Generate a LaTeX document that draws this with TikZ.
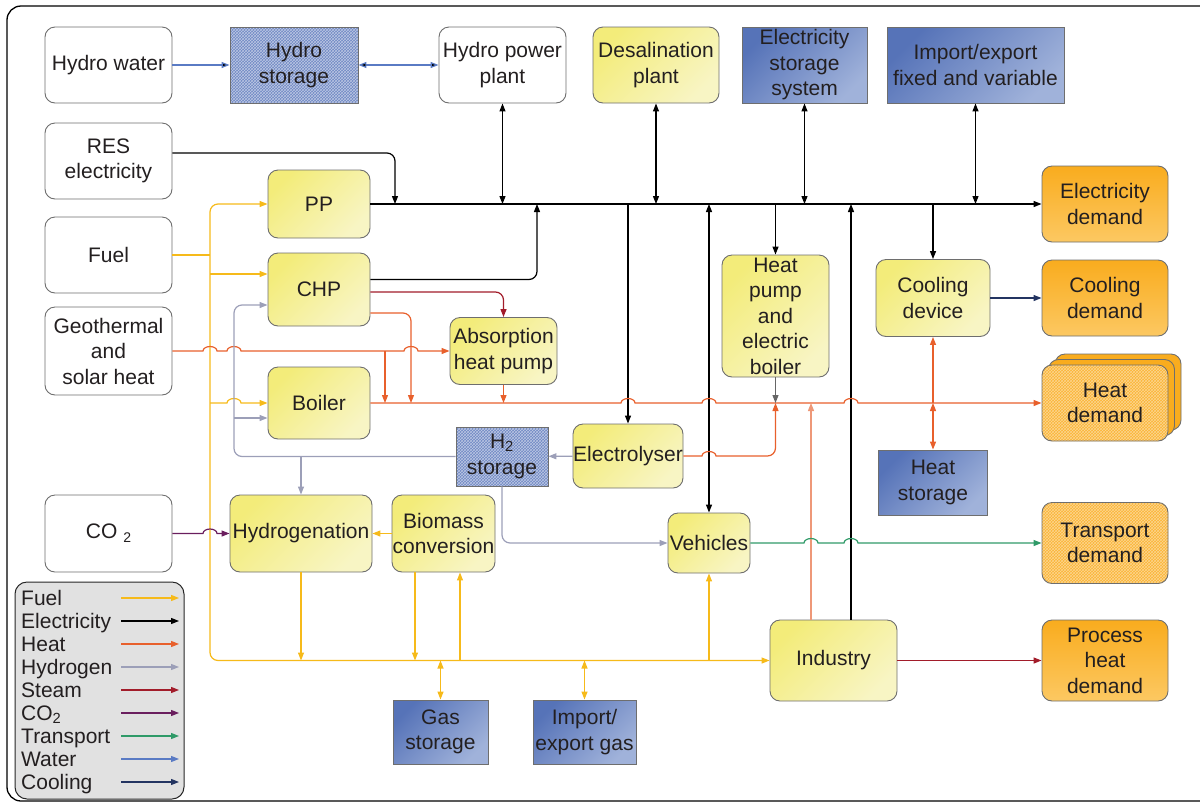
\documentclass[tikz,border=0pt]{standalone}
\usepackage{fontspec}
\setmainfont{Liberation Sans}
\usetikzlibrary{arrows.meta,patterns,shadows}

\definecolor{textc}{HTML}{231F20}
\definecolor{boxline}{HTML}{6E6E6E}
\definecolor{yelA}{HTML}{F3EC7A}
\definecolor{yelB}{HTML}{F8F5C4}
\definecolor{bluA}{HTML}{5673B8}
\definecolor{bluB}{HTML}{A0B2DA}
\definecolor{orgA}{HTML}{F9AC1E}
\definecolor{orgB}{HTML}{FCC862}
\definecolor{keyfill}{HTML}{E1E1E1}
\definecolor{fuelcol}{HTML}{F6BA1A}
\definecolor{heatcol}{HTML}{E8602C}
\definecolor{lightheat}{HTML}{EE9878}
\definecolor{hydcol}{HTML}{9C9FB8}
\definecolor{steamcol}{HTML}{A21C2A}
\definecolor{cocol}{HTML}{6A1E5E}
\definecolor{transcol}{HTML}{2F9A68}
\definecolor{watercol}{HTML}{5A7BC4}
\definecolor{coolcol}{HTML}{233461}

\tikzset{
  box/.style={rectangle, rounded corners=10pt, draw=boxline, line width=0.9pt,
    inner sep=0pt, align=center, text=textc, font=\fontsize{21}{25.5}\selectfont},
  wh/.style 2 args={minimum width=#1pt, minimum height=#2pt},
  plain/.style={box, fill=white},
  unit/.style={box, left color=yelA, right color=yelB, shading angle=45},
  store/.style={box, rounded corners=0pt, left color=bluA, right color=bluB, shading angle=45},
  hatchstore/.style={box, rounded corners=0pt, preaction={fill=bluA!85!white},
    pattern=crosshatch, pattern color=white!60!bluA},
  demand/.style={box, top color=orgA, bottom color=orgB},
  hatchdemand/.style={box, preaction={fill=orgA!90!white}, pattern=crosshatch,
    pattern color=white!50!orgA},
  keybox/.style={rectangle, rounded corners=12pt, draw=black!85, line width=1pt,
    fill=keyfill, minimum width=169pt, minimum height=217pt},
  keytext/.style={anchor=base west, inner sep=0pt, text=textc,
    font=\fontsize{21}{25.5}\selectfont},
  flow/.style={line width=1.2pt, >={Triangle[length=8pt,width=6pt]}},
  fuelflow/.style={flow, draw=fuelcol},
  elecflow/.style={flow, draw=black},
  heatflow/.style={flow, draw=heatcol},
  lheatflow/.style={flow, draw=lightheat},
  hpflow/.style={flow, draw=black!60},
  hydflow/.style={flow, draw=hydcol},
  steamflow/.style={flow, draw=steamcol},
  coflow/.style={flow, draw=cocol},
  transflow/.style={flow, draw=transcol},
  waterflow/.style={flow, draw=watercol},
  coolflow/.style={flow, draw=coolcol}
}
% little bridge where a line passes over another one
\newcommand{\hop}[2]{-- ({#1-7},#2) arc[start angle=180,end angle=360,x radius=7,y radius=4.5]}

\begin{document}
\begin{tikzpicture}[x=1pt,y=-1pt]
  \useasboundingbox (0,0) rectangle (1200,804);
  \draw[line width=1.3pt, rounded corners=14pt] (7,6) rectangle (1215,801);

  % sources
  \node[plain, wh={127}{76}] (hw) at (108.5,65) {Hydro water};
  \node[plain, wh={127}{76}] (res) at (108.5,161) {RES\\electricity};
  \node[plain, wh={127}{76}] (fuel) at (108.5,255) {Fuel};
  \node[plain, wh={127}{88}] (geo) at (108.5,351) {Geothermal\\and\\solar heat};
  \node[plain, wh={127}{77}] (co2) at (108.5,533.5) {CO {\fontsize{14}{14}\selectfont\raisebox{-4pt}{2}}};

  % top row
  \node[hatchstore, wh={128}{76}] (hs) at (294,65) {Hydro\\storage};
  \node[plain, wh={127}{76}] (hpp) at (502.5,65) {Hydro power\\plant};
  \node[unit, wh={126}{76}] (desal) at (656,65) {Desalination\\plant};
  \node[store, wh={125}{76}] (ess) at (804.5,65) {Electricity\\storage\\system};
  \node[store, wh={177}{76}] (iex) at (975.5,65) {Import/export\\fixed and variable};

  % conversion units
  \node[unit, wh={102}{68}] (pp) at (319,204) {PP};
  \node[unit, wh={102}{73}] (chp) at (319,289.5) {CHP};
  \node[unit, wh={102}{72}] (boiler) at (319,403) {Boiler};
  \node[unit, wh={107}{67}] (abs) at (503.5,351) {Absorption\\heat pump};
  \node[unit, wh={107}{122}] (hp) at (775.5,316) {Heat\\pump\\and\\electric\\boiler};
  \node[unit, wh={114}{77}] (cool) at (933,298) {Cooling\\device};
  \node[hatchstore, wh={92}{59}] (h2) at (502,456.5) {H\textsubscript{2}\\storage};
  \node[unit, wh={110}{64}] (ely) at (628,456) {Electrolyser};
  \node[store, wh={109}{65}] (hstor) at (933,482.5) {Heat\\storage};
  \node[unit, wh={142}{77}] (hydg) at (301,533.5) {Hydrogenation};
  \node[unit, wh={103}{77}] (bio) at (443.5,533.5) {Biomass\\conversion};
  \node[unit, wh={82}{60}] (veh) at (709,543) {Vehicles};
  \node[unit, wh={127}{81}] (ind) at (833.5,660.5) {Industry};
  \node[store, wh={95}{64}] (gas) at (440.5,732) {Gas\\storage};
  \node[store, wh={103}{64}] (igas) at (584.5,732) {Import/\\export gas};

  % demands
  \node[demand, wh={126}{76}] (edem) at (1105,204) {Electricity\\demand};
  \node[demand, wh={126}{76}] (cdem) at (1105,298) {Cooling\\demand};
  \node[double copy shadow={shadow xshift=6.5pt, shadow yshift=5.5pt, opacity=1,
      fill=orgA, draw=boxline}, hatchdemand, wh={126}{76}] (hdem) at (1105,403) {Heat\\demand};
  \node[hatchdemand, wh={126}{81}] (tdem) at (1105,543) {Transport\\demand};
  \node[demand, wh={126}{81}] (pdem) at (1105,660.5) {Process\\heat\\demand};

  \coordinate (fx) at (210,0);
  \coordinate (hx) at (234,0);
  \coordinate (hx2) at (411,0);
  \coordinate (bres) at (395,204);
  \coordinate (bchp) at (537,204);
  \coordinate (geoD) at (385,351);
  \coordinate (chpF) at ([yshift=15.5pt]chp.west);
  \coordinate (chpG) at ([yshift=-15.5pt]chp.west);
  \coordinate (chpE) at ([yshift=10pt]chp.east);
  \coordinate (chpS) at ([yshift=-2.5pt]chp.east);
  \coordinate (chpH) at ([yshift=-23.5pt]chp.east);
  \coordinate (boilG) at ([yshift=-15pt]boiler.west);
  \coordinate (bioD) at ([xshift=-28.5pt]bio.south);
  \coordinate (bioU) at ([xshift=16.5pt]bio.south);
  \coordinate (indH) at ([xshift=-22.5pt]ind.north);
  \coordinate (indE) at ([xshift=17.5pt]ind.north);

  % water
  \path[waterflow] (hw) edge[->] (hs)
                   (hs) edge[<->] (hpp);

  % electricity
  \draw[elecflow,->] (pp) -- (edem);
  \draw[elecflow,->,rounded corners=8pt] ([yshift=8pt]res.east) -| (bres);
  \draw[elecflow,->,rounded corners=8pt] (chpE) -| (bchp);
  \foreach \n in {hpp,desal,ess,iex}
    \draw[elecflow,<->] (\n.south) -- (\n.south |- pp.east);
  \draw[elecflow,->] (ely.north |- pp.east) -- (ely.north);
  \draw[elecflow,<->] (veh.north |- pp.east) -- (veh.north);
  \draw[elecflow,->] (hp.north |- pp.east) -- (hp.north);
  \draw[elecflow,->] (cool.north |- pp.east) -- (cool.north);
  \draw[elecflow,->] (indE) -- (indE |- pp.east);

  % fuel
  \draw[fuelflow,<->,rounded corners=8pt] (pp.west) -- (pp.west -| fx) -- (ind.west -| fx) -- (ind.west);
  \draw[fuelflow] (fuel.east) -- (fuel.east -| fx);
  \draw[fuelflow,->] (chpF -| fx) -- (chpF);
  \draw[fuelflow,->] (boiler.west -| fx) \hop{234}{403} -- (boiler.west);
  \draw[fuelflow,->] (bio) -- (hydg);
  \draw[fuelflow,->] (hydg.south) -- (hydg.south |- ind.west);
  \draw[fuelflow,->] (bioD) -- (bioD |- ind.west);
  \draw[fuelflow,->] (bioU |- ind.west) -- (bioU);
  \draw[fuelflow,->] (veh.south |- ind.west) -- (veh.south);
  \draw[fuelflow,<->] (gas.north) -- (gas.north |- ind.west);
  \draw[fuelflow,<->] (igas.north) -- (igas.north |- ind.west);

  % heat
  \draw[heatflow,->] (boiler.east) \hop{628}{403} \hop{709}{403} \hop{851}{403} -- (hdem.west);
  \draw[heatflow,->] (geo.east) \hop{210}{351} \hop{234}{351} \hop{411}{351} -- (abs.west);
  \draw[heatflow,->] (geoD) -- (geoD |- boiler.east);
  \draw[heatflow,->,rounded corners=8pt] (chpH) -| (hx2 |- boiler.east);
  \draw[heatflow,->] (abs.south) -- (abs.south |- boiler.east);
  \draw[heatflow,->] (ely.east) \hop{709}{456} [rounded corners=8pt] -- (ely.east -| hp.south) -- (hp.south |- boiler.east);
  \draw[hpflow,->] (hp.south) -- (hp.south |- boiler.east);
  \draw[lheatflow,->] (indH) -- (indH |- boiler.east);
  \draw[heatflow,->] (cool.south |- boiler.east) -- (cool.south);
  \draw[heatflow,<->] (cool.south |- boiler.east) -- (hstor.north);

  % steam
  \draw[steamflow,->,rounded corners=8pt] (chpS) -| (abs.north);
  \draw[steamflow,->] (ind) -- (pdem);

  % hydrogen
  \draw[hydflow,->,rounded corners=8pt] (h2.west) -- (h2.west -| hx) -- (chpG -| hx) -- (chpG);
  \draw[hydflow,->] (boilG -| hx) -- (boilG);
  \draw[hydflow,->] (hydg.north |- h2.west) -- (hydg.north);
  \draw[hydflow,->] (ely) -- (h2);
  \draw[hydflow,->,rounded corners=8pt] (h2.south) |- (veh.west);

  % co2, transport, cooling
  \draw[coflow,->] (co2.east) \hop{210}{533.5} -- (hydg.west);
  \draw[transflow,->] (veh.east) \hop{811}{543} \hop{851}{543} -- (tdem.west);
  \draw[coolflow,->] (cool) -- (cdem);

  % key
  \node[keybox] (key) at (99.5,690.5) {};
  \foreach \lab/\col [count=\i] in {Fuel/fuelcol, Electricity/black, Heat/heatcol,
      Hydrogen/hydcol, Steam/steamcol, CO\textsubscript{2}/cocol, Transport/transcol,
      Water/watercol, Cooling/coolcol} {
    \node[keytext] (k\i) at (21,{582.5+23*\i}) {\lab};
    \draw[flow,draw=\col,->] (121,{575+23*\i}) -- (179,{575+23*\i});
  }
\end{tikzpicture}
\end{document}
